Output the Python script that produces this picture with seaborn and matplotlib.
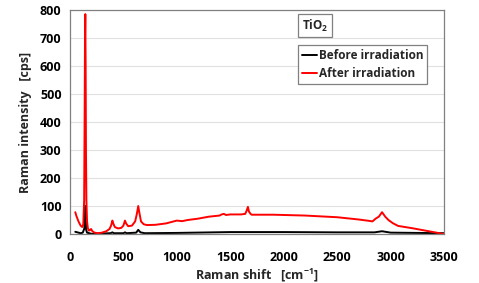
import matplotlib
matplotlib.use("Agg")
import matplotlib.pyplot as plt
import pandas as pd
import seaborn as sns
from matplotlib.ticker import MultipleLocator

# 读取的数据 (Raman shift, intensity)
after_x = [50, 60, 80, 100, 115, 125, 133, 138, 141, 144, 147, 150, 154, 160, 168, 178, 188, 198,
           210, 230, 260, 300, 340, 370, 385, 397, 405, 420, 450, 480, 500, 515, 525, 545, 580,
           610, 625, 639, 650, 665, 690, 720, 800, 900, 1000, 1050, 1100, 1200, 1300, 1400,
           1420, 1440, 1460, 1500, 1600, 1640, 1655, 1665, 1675, 1690, 1700, 1800, 1900, 2000,
           2100, 2200, 2300, 2400, 2500, 2600, 2700, 2800, 2830, 2860, 2890, 2920, 2950, 2980,
           3020, 3070, 3200, 3300, 3400, 3500]
after_y = [78, 65, 45, 30, 25, 35, 120, 450, 700, 785, 600, 300, 120, 45, 20, 12, 15, 18,
           10, 5, 3, 5, 10, 18, 30, 48, 38, 25, 20, 22, 30, 48, 38, 28, 30,
           45, 70, 100, 75, 45, 35, 32, 33, 38, 48, 46, 50, 55, 62, 66,
           70, 72, 68, 70, 70, 72, 85, 97, 80, 72, 69, 69, 69, 68,
           67, 66, 64, 62, 60, 56, 52, 47, 45, 55, 62, 78, 62, 50,
           39, 29, 21, 14, 7, 0]

before_x = [50, 80, 100, 120, 135, 141, 144, 147, 152, 160, 200, 300, 380, 397, 410, 500, 515,
            530, 620, 639, 660, 700, 1000, 1500, 2000, 2500, 2850, 2920, 3000, 3500]
before_y = [8, 5, 3, 5, 20, 70, 100, 60, 15, 5, 1, 2, 3, 6, 3, 3, 6,
            3, 5, 15, 6, 3, 4, 7, 7, 6, 6, 10, 5, 3]

series_names = ["Before irradiation", "After irradiation"]
series_colors = ["black", "red"]

df = pd.concat([
    pd.DataFrame({"shift": before_x, "intensity": before_y, "series": series_names[0]}),
    pd.DataFrame({"shift": after_x, "intensity": after_y, "series": series_names[1]}),
])

sns.set_style("white")
plt.rcParams["font.family"] = ["Open Sans", "DejaVu Sans"]
plt.rcParams["font.weight"] = "bold"
plt.rcParams["mathtext.fontset"] = "custom"
plt.rcParams["mathtext.rm"] = "Open Sans:bold"
plt.rcParams["mathtext.bf"] = "Open Sans:bold"

fig, ax = plt.subplots(figsize=(4.79, 2.83), dpi=100)
fig.subplots_adjust(left=0.146, right=0.927, top=0.965, bottom=0.173)

sns.lineplot(data=df, x="shift", y="intensity", hue="series", sort=False,
             palette=dict(zip(series_names, series_colors)), linewidth=1.4, ax=ax)

ax.set_xlim(0, 3500)
ax.set_ylim(0, 800)
ax.xaxis.set_major_locator(MultipleLocator(500))
ax.xaxis.set_minor_locator(MultipleLocator(100))
ax.yaxis.set_major_locator(MultipleLocator(100))
ax.yaxis.set_minor_locator(MultipleLocator(20))
ax.tick_params(axis="both", which="both", direction="in", labelsize=9, colors="#808080",
               labelcolor="black", pad=6)
ax.tick_params(which="major", length=4, width=0.8)
ax.tick_params(which="minor", length=3, width=0.6)
ax.tick_params(axis="x", pad=12)
ax.grid(axis="y", color="#e0e0e0", linewidth=0.8)
for s in ax.spines.values():
    s.set_color("#808080")
    s.set_linewidth(0.9)

for lab in ax.get_xticklabels() + ax.get_yticklabels():
    lab.set_fontweight("bold")

ax.set_xlabel("Raman shift   [cm$^{-1}$]", fontsize=9, fontweight="bold", labelpad=2)
ax.set_ylabel("Raman intensity   [cps]", fontsize=9, fontweight="bold", labelpad=6)

leg = ax.legend(loc="upper right", bbox_to_anchor=(0.955, 0.844), borderaxespad=0, fontsize=8.5,
                handlelength=1.3, handletextpad=0.1, borderpad=0.35, labelspacing=0.45,
                fancybox=False, edgecolor="#808080", framealpha=1)
leg.get_frame().set_linewidth(0.9)
for t in leg.get_texts():
    t.set_fontweight("bold")

ax.text(0.62, 0.965, "TiO$_2$", transform=ax.transAxes, fontsize=8.5, fontweight="bold",
        ha="left", va="top",
        bbox=dict(boxstyle="square,pad=0.3", facecolor="white", edgecolor="#808080", linewidth=0.9))

fig.savefig("out.png", dpi=100)
